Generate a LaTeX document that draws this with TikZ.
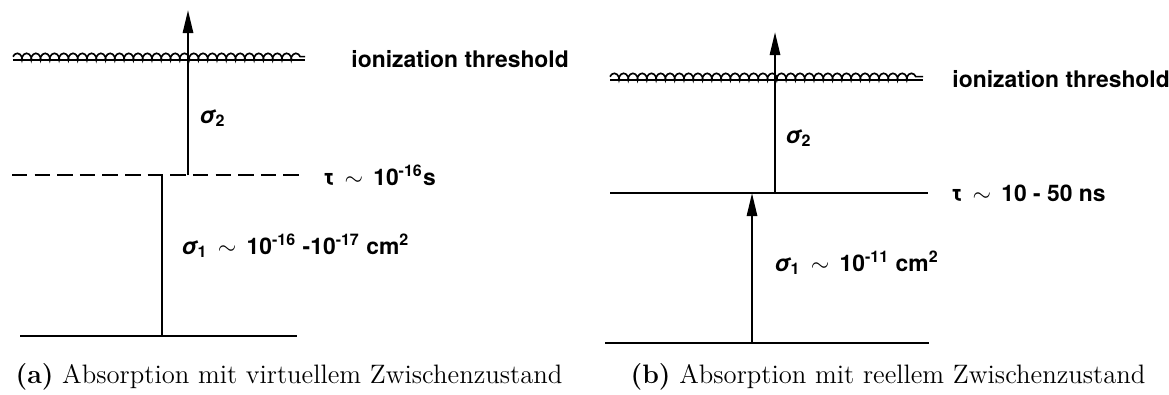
\documentclass[tikz,border=0pt]{standalone}
\usepackage{fontspec}
\newfontfamily\letterfont{TeX Gyre Heros}
\usetikzlibrary{arrows.meta,decorations.pathmorphing}
\tikzset{
  ab level/.style={line width=1pt},
  ab virtual/.style={line width=1pt, dash pattern=on 6.5pt off 3pt},
  ab wavy/.style={line width=0.7pt, decorate,
    decoration={coil, amplitude=1.4pt, segment length=3.9pt, aspect=0.6}},
  ab arrow/.style={-{Triangle[length=3.4mm,width=1.5mm]}, line width=1pt},
  ab label/.style={font=\letterfont\bfseries\fontsize{9.6}{12}\selectfont, inner sep=0pt, anchor=west},
  ab caption/.style={font=\fontsize{11.2}{13}\selectfont, inner sep=0pt}
}
\begin{document}
\begin{tikzpicture}[x=0.42pt, y=-0.42pt]
  \useasboundingbox (0,0) rectangle (1169,394);
  % (a) virtual intermediate state
  \coordinate (a-ion-l) at (13,60);   \coordinate (a-ion-r) at (305,60);
  \coordinate (a-mid-l) at (12,175);  \coordinate (a-mid-r) at (305,175);
  \coordinate (a-gnd-l) at (20,336);  \coordinate (a-gnd-r) at (297,336);
  \coordinate (a-one-lo) at (162,336); \coordinate (a-one-hi) at (162,175);
  \coordinate (a-two-lo) at (188,175); \coordinate (a-two-hi) at (188,10);
  \draw[ab level] (a-ion-l) -- (a-ion-r);
  \draw[ab wavy] ([yshift=1.4pt]a-ion-l) -- ([yshift=1.4pt]a-ion-r);
  \draw[ab virtual] (a-mid-l) -- (a-mid-r);
  \draw[ab level] (a-gnd-l) -- (a-gnd-r);
  \draw[ab level] (a-one-lo) -- (a-one-hi);
  \draw[ab arrow] (a-two-lo) -- (a-two-hi);
  \node[ab label] (iona) at (351,59) {ionization threshold};
  \node[ab label] (taua) at (323,175) {τ \,$\sim$\, 10\textsuperscript{-16}s};
  \node[ab label] (sigtwoa) at (199,118) {{\itshape σ}\textsubscript{2}};
  \node[ab label] (sigonea) at (181,246) {{\itshape σ}\textsubscript{1} \,$\sim$\, 10\textsuperscript{-16} -10\textsuperscript{-17} cm\textsuperscript{2}};
  \node[ab caption] (capa) at (289,377) {\textbf{(a)} Absorption mit virtuellem Zwischenzustand};
  % (b) real intermediate state
  \coordinate (b-ion-l) at (610,80);  \coordinate (b-ion-r) at (923,80);
  \coordinate (b-mid-l) at (610,193); \coordinate (b-mid-r) at (928,193);
  \coordinate (b-gnd-l) at (605,343); \coordinate (b-gnd-r) at (929,343);
  \coordinate (b-one-lo) at (752,343); \coordinate (b-one-hi) at (752,193);
  \coordinate (b-two-lo) at (775,193); \coordinate (b-two-hi) at (775,32);
  \draw[ab level] (b-ion-l) -- (b-ion-r);
  \draw[ab wavy] ([yshift=1.4pt]b-ion-l) -- ([yshift=1.4pt]b-ion-r);
  \draw[ab level] (b-mid-l) -- (b-mid-r);
  \draw[ab level] (b-gnd-l) -- (b-gnd-r);
  \draw[ab arrow] (b-one-lo) -- (b-one-hi);
  \draw[ab arrow] (b-two-lo) -- (b-two-hi);
  \node[ab label] (ionb) at (952,79) {ionization threshold};
  \node[ab label] (taub) at (951,193) {τ \,$\sim$\, 10 - 50 ns};
  \node[ab label] (sigtwob) at (785,138) {{\itshape σ}\textsubscript{2}};
  \node[ab label] (sigoneb) at (774,263) {{\itshape σ}\textsubscript{1} \,$\sim$\, 10\textsuperscript{-11} cm\textsuperscript{2}};
  \node[ab caption] (capb) at (888,377) {\textbf{(b)} Absorption mit reellem Zwischenzustand};
\end{tikzpicture}
\end{document}
